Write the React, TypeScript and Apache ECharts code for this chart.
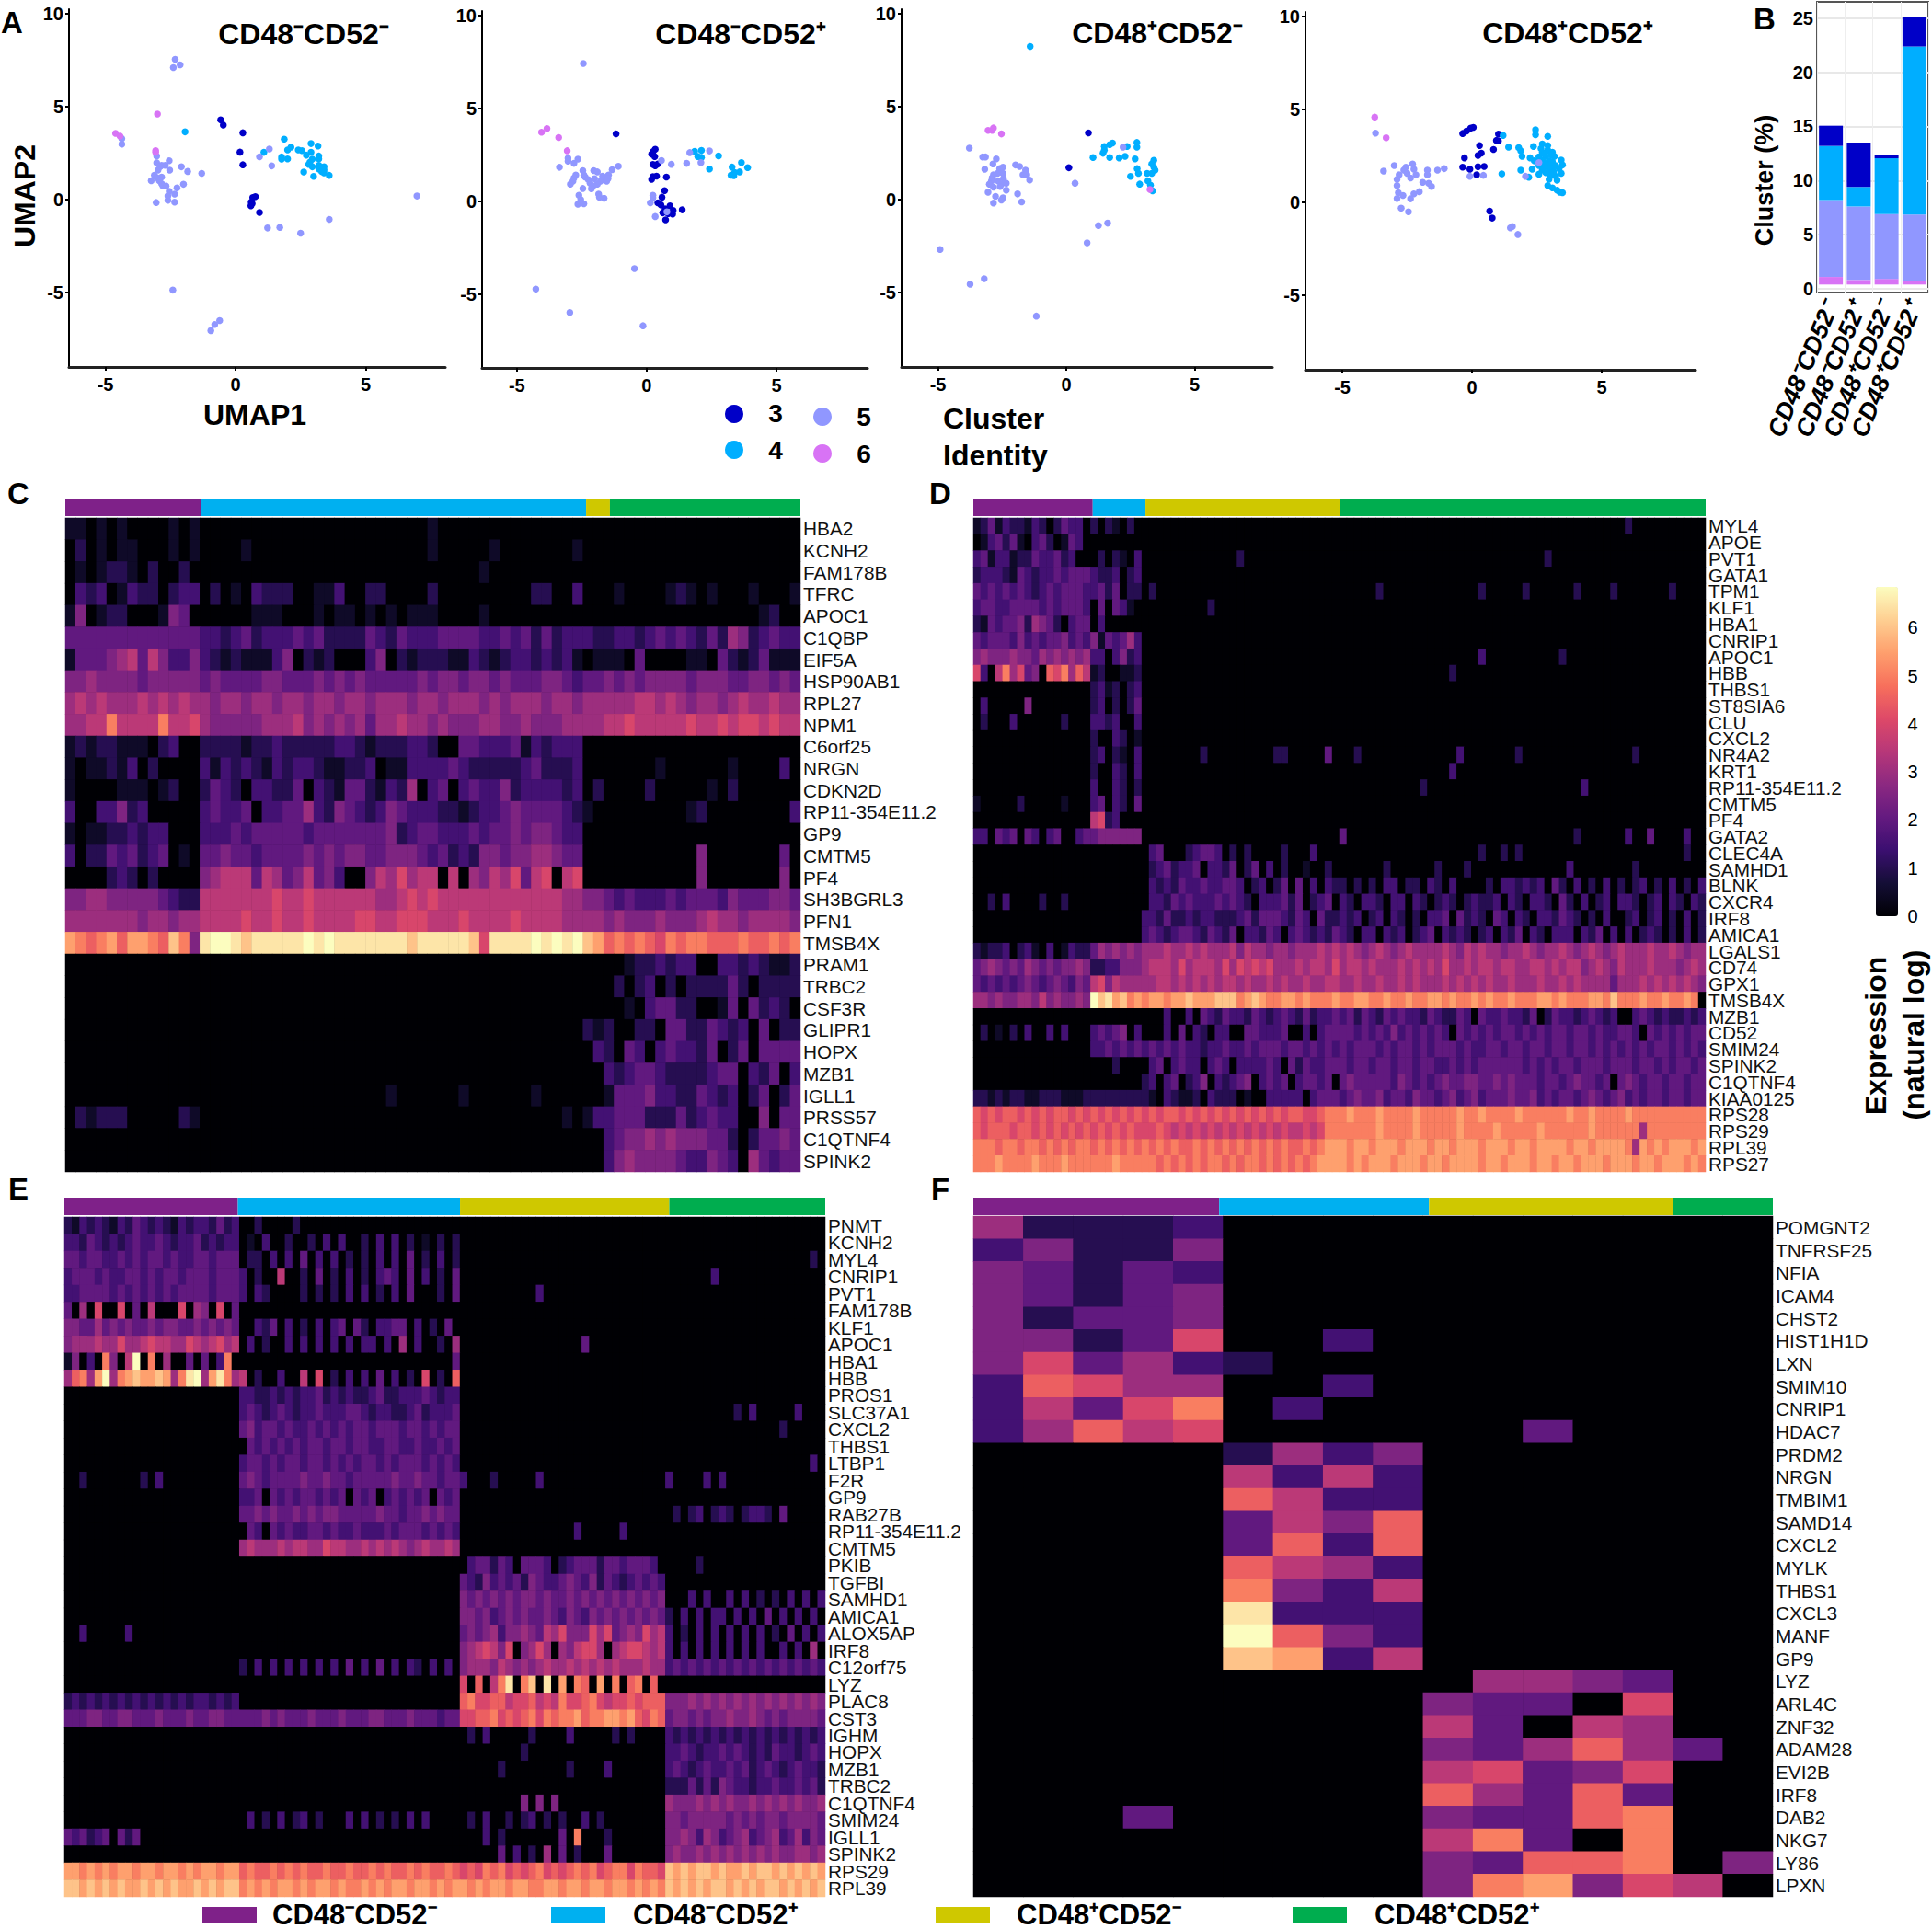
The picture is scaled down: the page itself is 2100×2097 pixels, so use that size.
import React, { useEffect, useRef } from "react";
import * as echarts from "echarts";

const GROUP_NAMES = ["CD48⁻CD52⁻", "CD48⁻CD52⁺", "CD48⁺CD52⁻", "CD48⁺CD52⁺"];
const GROUP_COLORS = ["#7f2189", "#00b0f0", "#cfc800", "#00ad4f"];
const CLUSTER_NAMES = ["3", "4", "5", "6"];
const CLUSTER_COLORS = ["#0000c8", "#00aeff", "#9097ff", "#d873f5"];
const MAGMA = ["#000004", "#140e36", "#3b0f70", "#641a80", "#8c2981", "#b73779", "#de4968", "#f7705c", "#fe9f6d", "#fecf92", "#fcfdbf"];

type P = [number, number];
const umap1: P[][] = [
  [[-0.57,4.3],[-0.47,4.02],[0.28,3.6],[0.17,2.56],[0.28,1.88],[0.76,0.17],[0.66,0.12],[0.6,-0.13],[0.64,-0.21],[0.59,-0.33],[0.92,-0.69]],
  [[-1.94,3.65],[1.87,3.26],[1.09,2.55],[2.13,2.83],[2.0,2.68],[2.41,2.68],[2.55,2.64],[2.9,3.02],[3.17,2.89],[2.9,2.55],[2.72,2.4],[3.2,2.35],[3.2,2.2],[2.95,2.18],[2.86,2.02],[1.77,2.3],[1.77,2.18],[2.0,2.2],[2.81,1.9],[2.95,1.77],[3.2,1.85],[3.4,1.77],[3.2,1.65],[3.4,1.6],[3.31,1.52],[3.4,1.44],[2.62,1.49],[3.6,1.31],[3.0,1.26]],
  [[-2.32,7.55],[-2.13,7.26],[-2.39,7.11],[-4.37,3.29],[-4.37,2.99],[-3.03,2.35],[-3.03,1.98],[-2.84,1.85],[-2.55,2.1],[-2.9,1.77],[-2.7,1.85],[-2.08,1.77],[-2.98,1.59],[-2.53,1.59],[-1.84,1.52],[-1.3,1.42],[-3.12,1.32],[-2.84,1.22],[-3.03,1.19],[-3.24,1.02],[-2.93,1.02],[-2.84,0.86],[-2.0,0.83],[-2.79,0.74],[-2.67,0.74],[-2.25,0.64],[-2.55,0.45],[-2.34,0.3],[-2.6,0.2],[-2.6,-0.03],[-3.05,-0.15],[-2.34,-0.13],[1.3,2.73],[0.92,2.31],[1.39,1.82],[6.97,0.2],[3.6,-1.06],[1.23,-1.52],[1.7,-1.49],[2.5,-1.8],[-2.41,-4.86],[-0.61,-6.5],[-0.8,-6.71],[-0.95,-7.04]],
  [[-3.0,4.61],[-4.61,3.57],[-4.44,3.42],[-3.07,2.64],[-3.07,2.56]],
];
const umap2: P[][] = [
  [[-1.18,3.64],[0.33,2.81],[0.24,2.68],[0.19,2.55],[0.31,2.42],[0.24,1.99],[0.43,2.02],[0.33,1.92],[0.24,1.34],[0.38,1.36],[0.19,1.19],[0.76,1.31],[0.69,0.58],[0.59,0.23],[0.43,-0.07],[0.55,-0.18],[0.9,-0.23],[0.71,-0.4],[1.02,-0.48],[0.62,-0.61],[1.37,-0.45],[1.0,-0.68],[0.83,-0.65],[0.73,-0.99]],
  [[1.85,2.7],[2.11,2.75],[1.97,2.42],[2.11,2.37],[2.77,2.45],[2.42,1.75],[3.29,1.85],[3.65,2.09],[3.89,1.82],[3.58,1.59],[3.39,1.56],[3.25,1.41],[3.36,1.39]],
  [[-2.44,7.43],[-3.36,1.84],[-3.03,2.33],[-3.03,2.17],[-2.8,2.05],[-2.65,2.28],[-1.09,1.89],[-1.33,1.71],[-2.46,1.66],[-2.04,1.66],[-1.9,1.59],[-2.42,1.42],[-1.47,1.42],[-2.73,1.42],[-1.7,1.36],[-2.37,1.31],[-2.8,1.26],[-2.01,1.23],[-1.49,1.23],[-2.25,1.18],[-2.84,1.09],[-1.78,1.09],[-1.54,1.09],[-2.94,0.93],[-2.18,0.98],[-1.9,0.93],[-2.06,0.84],[-2.46,0.7],[-2.13,0.68],[-2.61,0.33],[-1.85,0.4],[-1.82,0.23],[-1.64,0.17],[-2.54,0.1],[-2.42,-0.12],[-2.65,-0.15],[0.57,2.2],[0.95,2.0],[1.66,2.63],[2.42,2.72],[1.54,2.05],[2.09,2.09],[0.24,0.33],[0.24,0.2],[0.14,-0.07],[0.33,-0.81],[0.78,-0.56],[-0.47,-3.61],[-4.27,-4.72],[-2.96,-5.98],[-0.14,-6.69]],
  [[-4.05,3.73],[-3.84,3.92],[-3.39,3.44],[-3.06,2.73]],
];
const umap3: P[][] = [
  [[0.86,3.59],[0.1,1.72]],
  [[-1.41,8.25],[1.8,3.05],[1.69,2.96],[1.48,2.86],[1.48,2.67],[2.37,2.86],[2.75,3.08],[2.75,2.83],[1.43,2.5],[1.04,2.27],[1.69,2.27],[2.06,2.25],[2.29,2.33],[2.68,2.2],[3.41,2.12],[3.33,1.92],[3.41,1.75],[2.76,1.67],[3.46,1.59],[3.15,1.42],[2.81,1.42],[2.5,1.26],[3.33,1.42],[2.86,0.84],[3.18,1.01],[3.28,0.79],[3.36,0.48]],
  [[2.21,2.83],[0.34,0.89],[-3.78,2.78],[-3.26,2.3],[-3.15,2.3],[-2.86,1.92],[-2.73,2.2],[-2.6,1.67],[-1.98,1.87],[-1.82,1.79],[-3.18,1.64],[-2.47,1.75],[-2.47,1.42],[-2.68,1.42],[-1.59,1.59],[-1.69,1.34],[-1.54,1.34],[-2.84,1.34],[-2.89,1.18],[-2.45,1.14],[-1.43,1.06],[-2.92,1.01],[-2.66,1.01],[-3.0,0.84],[-2.53,0.84],[-2.34,0.89],[-2.84,0.68],[-2.58,0.71],[-2.34,0.51],[-3.05,0.4],[-2.76,0.18],[-1.9,0.31],[-2.47,0.1],[-2.53,-0.02],[-1.74,-0.12],[-2.84,-0.18],[1.61,-1.26],[1.25,-1.39],[0.81,-2.32],[-4.92,-2.68],[-3.2,-4.25],[-3.75,-4.55],[-1.17,-6.26]],
  [[-3.05,3.73],[-2.89,3.73],[-2.84,3.86],[-2.53,3.54],[3.26,0.55]],
];
const umap4: P[][] = [
  [[-0.36,3.71],[-0.21,3.84],[-0.05,4.0],[0.05,4.04],[1.02,3.68],[0.94,3.34],[0.29,3.06],[1.02,3.31],[0.83,2.85],[0.36,2.65],[0.23,2.53],[-0.29,2.4],[-0.36,1.9],[-0.08,1.79],[0.23,1.92],[0.47,1.94],[0.18,1.49],[0.68,-0.46],[0.78,-0.84]],
  [[1.2,3.61],[2.45,3.92],[2.45,3.64],[2.92,3.56],[1.41,2.98],[1.8,2.95],[2.37,3.01],[1.88,2.78],[2.71,3.15],[2.92,3.06],[2.66,2.9],[2.92,2.81],[2.71,2.7],[3.1,2.7],[1.93,2.48],[2.24,2.4],[2.58,2.45],[2.84,2.48],[3.18,2.48],[2.4,2.24],[2.71,2.28],[2.97,2.24],[3.44,2.28],[2.58,1.99],[2.89,2.02],[3.23,1.99],[3.49,2.02],[2.97,1.82],[3.36,1.82],[1.88,1.74],[2.32,1.79],[2.71,1.74],[1.15,1.54],[2.58,1.52],[2.97,1.57],[3.44,1.57],[2.19,1.36],[3.23,1.41],[2.97,1.24],[3.28,1.19],[2.92,0.91],[3.1,0.79],[3.28,0.66],[3.39,0.55],[3.49,0.53],[2.8,2.6],[3.05,2.55],[2.6,2.2],[3.1,2.2],[2.8,2.1],[3.1,2.1],[2.75,1.9],[3.1,1.85],[2.85,1.6],[3.15,1.65],[3.05,1.45]],
  [[-3.72,3.73],[-3.0,1.99],[-3.41,1.69],[-2.29,2.07],[-2.55,1.9],[-2.24,1.79],[-2.63,1.74],[-1.72,1.74],[-1.33,1.74],[-1.07,1.82],[-2.81,1.49],[-2.5,1.57],[-2.16,1.49],[-1.72,1.49],[-2.89,1.24],[-2.37,1.32],[-1.9,1.08],[-2.89,0.91],[-1.67,1.03],[-1.56,0.86],[-2.03,0.58],[-2.84,0.53],[-2.66,0.38],[-2.24,0.46],[-2.89,0.22],[-2.37,0.2],[-2.73,-0.3],[-2.45,-0.5],[-0.08,1.41],[0.44,1.46],[2.06,1.41],[2.58,2.15],[1.56,-1.29],[1.48,-1.37],[1.77,-1.72]],
  [[-3.75,4.59],[-3.31,3.48]],
];

// Panel B: base offset then stacked cluster percentages (bottom to top: 6, 5, 4, 3)
const barBase = [0.38, 0.38, 0.38, 0.38];
const bar6 = [0.7, 0.42, 0.52, 0.32];
const bar5 = [7.12, 6.8, 6.0, 6.15];
const bar4 = [5.0, 1.8, 5.16, 15.55];
const bar3 = [1.87, 4.1, 0.34, 2.7];

// Heatmap rows: one character per cell, an index into LEVEL_VALUES. '|' separates the groups; a short group is padded with 0.
const LEVEL_KEYS = "0123456789abcde";
const LEVEL_VALUES = [0, 0.5, 1, 1.5, 2, 2.5, 3, 3.5, 4, 4.5, 5, 5.5, 6, 6.5, 6.85];

const genesC = ["HBA2","KCNH2","FAM178B","TFRC","APOC1","C1QBP","EIF5A","HSP90AB1","RPL27","NPM1","C6orf25","NRGN","CDKN2D","RP11-354E11.2","GP9","CMTM5","PF4","SH3BGRL3","PFN1","TMSB4X","PRAM1","TRBC2","CSF3R","GLIPR1","HOPX","MZB1","IGLL1","PRSS57","C1QTNF4","SPINK2"];
const groupsC = [13, 37, 2, 19];
const rowsC = [
"1101010000101|0000000000000000000000100000000000000",
"0201011000101|0000100000000000000000100000100000001",
"0101221020020|0000000000000000000000000001000000000",
"0323013220233|0201032220011300220000200000000022003|00|0100001210100010001",
"1501220001540|0000011100010110101011100001000000000|00|000000000000000120",
"4444444444444|3323423334342222432433344443343424233|32|2332343432426523433",
"1444567475335|3212111350212000350212221132123323231|01|1104000011042124111",
"5565555455555|4544445544454545444445455455454445543|44|5454555545554455454",
"6767666767676|6566566566566566566656656665656665665|66|6667767656656766766",
"6677a7777a778|6555556667565656466766565556655655566|66|7787777787787887877",
"1212211102300|2222122322222332122233200443334132333|",
"1011213020000|3132321323321122301133334322222342223|00|0000010000001000030",
"1000011101200|2432033224032144213260340343352333323|02|0000200000102000000",
"3003352300000|3433403344632543235433322123345444432|10|0000000012000000003",
"1011223233000|3334344444344444445234433343445455433|",
"3022434234010|4454434444545455445554342325545566544|00|0000000005000000040",
"0000232020000|5677747645745300576867707065768478078|00|0000000005000000050",
"5566555554322|7777777877877777766787877777777777766|55|4343334344435444554",
"6666666566566|7777877877877778877888777877778777766|66|5655565556766566665",
"ba9ab9bba9ca5|deedcdddddededddddddcdddddc8ddddedede|cb|9a9a98a9aa999a99a9a",
"0000000000000|0000000000000000000000000000000000000|00|0012232330033232112",
"0000000000000|0000000000000000000000000000000000000|00|0202302022224202222",
"0000000000000|0000000000000000000000000000000000000|00|0010344220014042320",
"0000000000000|0000000000000000000000000000000000000|21|2002204422432304022",
"0000000000000|0000000000000000000000000000000000000|03|2043034332402404444",
"0000000000000|0000000000000000000000000000000000000|00|3234432222344032403",
"0000000000000|0000000000000000001000000100000010000|00|1444533224323024024",
"0212220000021|0000000000000000000000000000000000010|13|3444222423433005044",
"0000000000000|0000000000000000000000000000000000000|00|3455656555442024454",
"0000000000000|0000000000000000000000000000000000000|00|3565555433543064344",
];

const genesD = ["MYL4","APOE","PVT1","GATA1","TPM1","KLF1","HBA1","CNRIP1","APOC1","HBB","THBS1","ST8SIA6","CLU","CXCL2","NR4A2","KRT1","RP11-354E11.2","CMTM5","PF4","GATA2","CLEC4A","SAMHD1","BLNK","CXCR4","IRF8","AMICA1","LGALS1","CD74","GPX1","TMSB4X","MZB1","CD52","SMIM24","SPINK2","C1QTNF4","KIAA0125","RPS28","RPS29","RPL39","RPS27"];
const groupsD = [16, 7, 27, 50];
const rowsD = [
"1241322132024330|2021020||000000000000000000000000000000000000000200",
"0134241034201430|0000000|",
"3413312243342300|0202103|0000000000000200|0000000000000000000000000000200",
"2333214323343444|3223023|",
"4343434323434443|3424022|020000|000002000000000000020000020000002000020000000200",
"3443344443434443|0404310|00000000020",
"2143445265420344|0300000|",
"4344435343445343|5143463|",
"5655565546565656|3303523||00000000000000000003000000000020",
"8307a6845098a697|1200112||0000000000000002",
"0000000000000000|2312023|",
"0300000500000000|2302024|",
"0200030000002000|3323003|",
"0000000000000000|2003201|",
"0000000000000000|2302103|0000000020000000002200000400|00200000000000003000000020000000000000002",
"0000000000000000|2003203||000000000000000300",
"0000000000000000|3003202||00000000000200000000000000000000030",
"1000002000001000|3403204|",
"0000000000000000|7823000|",
"3304340430340034|4555555||400000000000000000000000000000002000000300400003",
"0000000000000000|0000000|0340002344302020000200030|00000000000000000002002020000000000000000000000200020",
"0000000000000000|0000000|0234233403324024030200100200|000000200000020002000000000000030000000020",
"0000000000000000|0000000|0323243343344302302404030320|20202033022032030000203323230420302030202302030203",
"0020300002002000|0000000|0332434333434320333424023402|32033203303202320232230320332042030230332023032032",
"0000000000000000|0000000|3324223233222342444324304223|32302303202033404232043032033243202030023023020302",
"0000000000000000|0000000|3432344324324033243034323240|32033032302340323202303240320333032403030232020302",
"2122302310301322|4656565|6667667676667576656656667675|67656765676666765767665667656676567656766676676566",
"4565454654545565|2233555|6777686777686878786667677686|67767666767676866767767766776767756765766676665676",
"4343434543454354|7857666|6677676767677676676766766776|66766766767666767676766766676676766664666767676765",
"6656556657565565|ecdbcab|abbabbcbbbcccabcbaabbabaaaba|aabbaabaabaabbabaababaabaaabbabaaabbacaaabaabaaba",
"0000000000000000|0000000|0003003043243324323432423344|34243243433243224304334332402433234323003432322323",
"0201020300303000|3434503|0003040320330044333400303443|44343435343434304343434434343443443433443043434344",
"0000000000000000|3343434|3434343323343343444344343434|43444343443434443433443443443443443434343434434343",
"0000000000000000|0002000|0340343303430333343042433443|43443443443443343434444443434344344434443443434434",
"0000000000000000|0000000|2303402350323450343403443403|45444443543434544554454544434434544340454344344344",
"2212122112221112|2222222|2103211203222010033333034444|34544534435443453453444544534344345434534344344344",
"9898998989899898|9898989|8989989898989898989899889aaa|abaaabaaaabaaaaabaabaaaabaaaaaabaabaaaabaaaaaaaaaa",
"9899989989898989|8989898|8898787878787878787877878aaa|aaaaabaaaabaaaaabaaaabaaaaabaaaaaabaaaaaa6aaaaaaaa",
"aaa9aa9aa9a9a9aa|9a9a9a9|a9a9a99a9a9a9a9a9a9a99a9abb|babbabbbabbbabbabbbabbbabbabbbbabbabbbba6bababbbab",
"aaabaaaabaaabaaa|aaabaaa|aa9a9a9a9aa9a9aa9a9a9a9abbb|bababbbabbbabbabbbbabbabbbabbabbabbbabbbabbabbbaba",
];

const genesE = ["PNMT","KCNH2","MYL4","CNRIP1","PVT1","FAM178B","KLF1","APOC1","HBA1","HBB","PROS1","SLC37A1","CXCL2","THBS1","LTBP1","F2R","GP9","RAB27B","RP11-354E11.2","CMTM5","PKIB","TGFBI","SAMHD1","AMICA1","ALOX5AP","IRF8","C12orf75","LYZ","PLAC8","CST3","IGHM","HOPX","MZB1","TRBC2","C1QTNF4","SMIM24","IGLL1","SPINK2","RPS29","RPL39"];
const groupsE = [23, 29, 27, 21];
const rowsE = [
"21323213243232132332423|00200002000000000000|",
"33243232343343233423233|01030020020303002030302010202|",
"44344334343443433443444|02203030403030202030304020302||0000000000000000000200",
"34443433443434434443444|30200700204020302034304030204||000000300",
"33444434343434344443444|30320000202020303020304000204|00000000003",
"40608008040700080650804|00000000000000000000000000000|",
"55446454544545544545454|00324030203034042033440302040|",
"56667668667877668767867|03020030303030303303060300206|00000000000000004",
"15030a507e0a060040403a0|00000000000000000000000000004|",
"69a6be6abcbbcb6ade6bda6|70200300708020303040302080209|",
"00000000000000000000000|33223232334232322342233343233|",
"00000000000000000000000|34323432334333443233223423334|00000000000000000000000000|0000000002030000030002",
"00000000000000000000000|45344343343434344344434434344||00000000000000020",
"00000000000000000000000|04343434344344344334433433434|",
"00000000000000000000000|34434344344343434434344434343||000000000000000000030",
"00200000002030000000000|45434444544544344444544544344|3000200000300000000000|30000303000",
"00000000000000000000000|33404343443434043403434340434|",
"00000000000000000000000|44545445454554444454434454544||0202302320233204",
"00000000000000000000000|04304343344343343334344434343|000000000000000300000300",
"00000000000000000000000|67666767766877667676765676676|",
"00000000000000000000000|00000000000000000000000000000|034424304443023444244344430|000020000",
"00000000000000000000000|00000000000000000000000000000|432534342543345435243234343",
"00000000000000000000000|00000000000000000000000000000|545454545545445454545454545|000303003030202030303",
"00000000000000000000000|00000000000000000000000000000|554534545445435435454545454|203030330303040303030",
"00300000300000000000000|00000000000000000000000000000|454563556547685558684565867|302030303030302040303",
"00000000000000000000000|00000000000000000000000000000|567875805686065788606788767|303030303030300303060",
"00000000000000000000000|20303030303030403040303203030|566657656567667676767666766|343434343434343434343",
"00000000000000000000000|00000000000000000000000000000|80907ad0ac0d0b0a90b0a09a090|",
"23232323232323232332323|00000000000000000000000000000|9a88997889787a889a878898999|555656565656565656565",
"44455445544454445445544|44454544454445444554445444344|8899a8989a8a9aab9aabbab98a9|455454556556545455554",
"00000000000000000000000|00000000000000000000000000000|020300000200003000002020000|323232323232323232323",
"00000000000000000000000|00000000000000000000000000000|000000002000000000000000000|334323343432324332343",
"00000000000000000000000|00000000000000000000000000000|000002000000002000030000000|343234334342343234332",
"00000000000000000000000|00000000000000000000000000000|0|222424254332334334342",
"00000000000000000000000|00000000000000000000000000000|000000005050500000000000000|655565656556565656556",
"00000000000000000000000|03020302302000303020203030000|020300202302020030200000000|554555554545455455554",
"43423404240000000000000|00000000000000000000000000000|000302000000040a00020000000|556536534563456346354",
"00000000000000000000000|00000000000000000000000000000|000004030206040200040000000|565565656565656556656",
"bbabababbabbabbababbabb|9a99a9a9a99a99a99a9a99a9a99a9|898a9a8989a8989a9a89aa8a998|cbcbccbcbbcbccbcbcbcb",
"ccbcbcbcbbcbcbcbbcbcbcc|abababbababbabaabababbabbabab|bababbabbaabbabbabbabbababa|cbcbcbccbcbcbccbcbcbc",
];

const genesF = ["POMGNT2","TNFRSF25","NFIA","ICAM4","CHST2","HIST1H1D","LXN","SMIM10","CNRIP1","HDAC7","PRDM2","NRGN","TMBIM1","SAMD14","CXCL2","MYLK","THBS1","CXCL3","MANF","GP9","LYZ","ARL4C","ZNF32","ADAM28","EVI2B","IRF8","DAB2","NKG7","LY86","LPXN"];
const groupsF = [16];
const rowsF = [
"6222300000000000",
"3522500000000000",
"5424300000000000",
"5424500000000000",
"5244500000000000",
"5524800300000000",
"5846320000000000",
"3986600300000000",
"3748a03000000000",
"3697800000040000",
"0000026350000000",
"0000073730000000",
"0000097330000000",
"0000047590000000",
"0000049390000000",
"0000097630000000",
"00000a5370000000",
"00000d3330000000",
"00000e9530000000",
"00000cb370000000",
"0000000000665400",
"0000000005440800",
"0000000007407600",
"0000000005469640",
"0000000007845800",
"0000000009649400",
"0004000005449a00",
"0000000007a40a00",
"0000000005499a05",
"0000000005ab5870",
];
// annotation strip widths, in columns
const stripC = [13.1, 37.2, 2.3, 18.4];
const stripD = [16.3, 7.2, 26.5, 50];
const stripE = [22.8, 29.2, 27.5, 20.5];
const stripF = [4.92, 4.2, 4.88, 2];

const decode = (rows: string[], groups: number[]) =>
  rows.map((r) => {
    const parts = r.split("|");
    return groups.flatMap((n, i) =>
      [...(parts[i] || "").padEnd(n, "0").slice(0, n)].map((c) => LEVEL_VALUES[LEVEL_KEYS.indexOf(c)])
    );
  });

const SANS = '"Liberation Sans", Arial, sans-serif';

function buildOption() {
  const grids: any[] = [], xAxes: any[] = [], yAxes: any[] = [], series: any[] = [], graphic: any[] = [];
  const heatIdx: number[] = [];
  const addGrid = (l: number, r: number, t: number, b: number, extra: any = {}) => {
    grids.push({ left: l, top: t, width: r - l, height: b - t, containLabel: false, ...extra });
    return grids.length - 1;
  };
  const text = (t: string, x: number, y: number, font: string, extra: any = {}) =>
    graphic.push({ type: "text", x, y, rotation: extra.rotation || 0, style: { text: t, font, fill: "#000", textAlign: extra.align || "center", textVerticalAlign: "middle" } });

  const umapPanel = (pts: P[][], l: number, r: number, t: number, b: number, xr: number[], yr: number[]) => {
    const g = addGrid(l, r, t, b);
    xAxes.push({ type: "value", gridIndex: g, min: xr[0], max: xr[1], axisLine: { onZero: false, lineStyle: { color: "#222", width: 3 } },
      axisTick: { length: 4, customValues: [-5, 0, 5], lineStyle: { color: "#000", width: 2 } }, splitLine: { show: false },
      axisLabel: { customValues: [-5, 0, 5], color: "#000", fontFamily: SANS, fontWeight: "bold", fontSize: 20, margin: 9 } });
    yAxes.push({ type: "value", gridIndex: g, min: yr[0], max: yr[1], axisLine: { onZero: false, lineStyle: { color: "#000", width: 2 } },
      axisTick: { length: 4, customValues: [-5, 0, 5, 10], lineStyle: { color: "#000", width: 2 } }, splitLine: { show: false },
      axisLabel: { customValues: [-5, 0, 5, 10], color: "#000", fontFamily: SANS, fontWeight: "bold", fontSize: 20, margin: 6 } });
    pts.forEach((d, i) =>
      series.push({ type: "scatter", name: CLUSTER_NAMES[i], xAxisIndex: g, yAxisIndex: g, data: d, symbolSize: 7.5, itemStyle: { color: CLUSTER_COLORS[i], opacity: 1 } })
    );
  };
  umapPanel(umap1, 75, 484, 10, 399, [-6.4, 8.06], [-9.0, 10.25]);
  umapPanel(umap2, 524, 943, 12, 400, [-6.34, 8.51], [-8.96, 10.25]);
  umapPanel(umap3, 980, 1383, 10, 399, [-6.42, 8.03], [-9.0, 10.25]);
  umapPanel(umap4, 1419, 1843, 13, 402, [-6.42, 8.62], [-9.0, 10.25]);

  // Panel B
  const gB = addGrid(1975, 2096, 2, 318, { show: true, borderColor: "#555", borderWidth: 2, backgroundColor: "#fff" });
  xAxes.push({ type: "category", gridIndex: gB, data: GROUP_NAMES, axisTick: { show: false }, axisLine: { show: false }, splitLine: { show: true, lineStyle: { color: "#eee", width: 1 } },
    axisLabel: { interval: 0, rotate: 67, color: "#000", fontFamily: SANS, fontWeight: "bold", fontStyle: "italic", fontSize: 27, margin: 12 } });
  yAxes.push({ type: "value", gridIndex: gB, min: -0.36, max: 26.53, axisLine: { show: false },
    axisTick: { length: 3, customValues: [0, 5, 10, 15, 20, 25], lineStyle: { color: "#000" } }, splitLine: { show: true, lineStyle: { color: "#e8e8e8", width: 2 } },
    axisLabel: { customValues: [0, 5, 10, 15, 20, 25], color: "#000", fontFamily: SANS, fontWeight: "bold", fontSize: 20, margin: 4 } });
  series.push({ type: "bar", name: "base", xAxisIndex: gB, yAxisIndex: gB, stack: "b", barWidth: 26, data: barBase, itemStyle: { color: "rgba(0,0,0,0)" } });
  [[bar6, 3], [bar5, 2], [bar4, 1], [bar3, 0]].forEach(([d, c]: any) =>
    series.push({ type: "bar", name: CLUSTER_NAMES[c], xAxisIndex: gB, yAxisIndex: gB, stack: "b", barWidth: 26, data: d, itemStyle: { color: CLUSTER_COLORS[c] } })
  );

  const heatPanel = (genes: string[], rows: string[], groups: number[], strip: number[], l: number, r: number, sTop: number, sBot: number, t: number, b: number) => {
    const m = decode(rows, groups);
    const nCols = groups.reduce((a, v) => a + v, 0);
    const g = addGrid(l, r, t, b, { show: true, backgroundColor: "#000004", borderWidth: 0 });
    xAxes.push({ type: "category", gridIndex: g, show: false, splitLine: { show: false }, data: Array.from({ length: nCols }, (_, i) => String(i)) });
    yAxes.push({ type: "category", gridIndex: g, inverse: true, position: "right", data: genes, axisLine: { show: false }, axisTick: { show: false }, splitLine: { show: false },
      axisLabel: { interval: 0, color: "#111", fontFamily: SANS, fontSize: 20.8, margin: 3 } });
    const data: number[][] = [];
    m.forEach((row, y) => row.forEach((v, x) => data.push([x, y, v])));
    heatIdx.push(series.length);
    series.push({ type: "heatmap", xAxisIndex: g, yAxisIndex: g, data, progressive: 0, emphasis: { disabled: true } });
    const s = addGrid(l, r, sTop, sBot);
    const total = strip.reduce((a, v) => a + v, 0);
    xAxes.push({ type: "value", gridIndex: s, show: false, min: 0, max: total, splitLine: { show: false } });
    yAxes.push({ type: "category", gridIndex: s, show: false, splitLine: { show: false }, data: ["group"] });
    strip.forEach((v, i) =>
      series.push({ type: "bar", name: GROUP_NAMES[i], xAxisIndex: s, yAxisIndex: s, stack: "strip" + s, barWidth: "100%", data: [v], itemStyle: { color: GROUP_COLORS[i] } })
    );
  };
  heatPanel(genesC, rowsC, groupsC, stripC, 71, 870, 543, 561, 563, 1274);
  heatPanel(genesD, rowsD, groupsD, stripD, 1058, 1854, 542, 561, 563, 1274);
  heatPanel(genesE, rowsE, groupsE, stripE, 70, 897, 1302, 1321, 1323, 2062);
  heatPanel(genesF, rowsF, groupsF, stripF, 1058, 1927, 1302, 1321, 1322, 2062);

  // texts
  const tf = `bold 32px ${SANS}`;
  text(GROUP_NAMES[0], 330, 37, tf);
  text(GROUP_NAMES[1], 805, 37, tf);
  text(GROUP_NAMES[2], 1258, 36, tf);
  text(GROUP_NAMES[3], 1704, 36, tf);
  text("UMAP1", 277, 451, `bold 32px ${SANS}`);
  text("UMAP2", 27, 213, `bold 32px ${SANS}`, { rotation: Math.PI / 2 });
  text("Cluster (%)", 1918, 196, `bold 27px ${SANS}`, { rotation: Math.PI / 2 });
  text("Cluster", 1025, 455, `bold 32px ${SANS}`, { align: "left" });
  text("Identity", 1025, 495, `bold 32px ${SANS}`, { align: "left" });
  text("Expression", 2039, 1126, `bold 32px ${SANS}`, { rotation: Math.PI / 2 });
  text("(natural log)", 2080, 1125, `bold 32px ${SANS}`, { rotation: Math.PI / 2 });
  const pl = `bold 33px ${SANS}`;
  text("A", 13, 24, pl); text("B", 1918, 20, pl); text("C", 20, 536, pl); text("D", 1022, 536, pl); text("E", 20, 1292, pl); text("F", 1022, 1292, pl);
  // cluster key
  const key: [number, number, number, number][] = [[798, 450, 843, 449], [798, 489, 843, 489], [894, 453, 939, 453], [894, 493, 939, 493]];
  key.forEach(([cx, cy, tx, ty], i) => {
    graphic.push({ type: "circle", shape: { cx, cy, r: 10 }, style: { fill: CLUSTER_COLORS[i] } });
    text(CLUSTER_NAMES[i], tx, ty, `bold 28px ${SANS}`);
  });
  // colour bar ticks
  [0, 1, 2, 3, 4, 5, 6].forEach((v) => text(String(v), 2079, 996 - v * 52.3, `20px ${SANS}`));
  // group key
  [[220, 296], [599, 688], [1017, 1105], [1405, 1494]].forEach(([sx, tx], i) => {
    graphic.push({ type: "rect", shape: { x: sx, y: 2073, width: 59, height: 18 }, style: { fill: GROUP_COLORS[i] } });
    text(GROUP_NAMES[i], tx, 2081, `bold 31px ${SANS}`, { align: "left" });
  });

  return {
    animation: false,
    backgroundColor: "#fff",
    grid: grids,
    xAxis: xAxes,
    yAxis: yAxes,
    series,
    graphic: { elements: graphic },
    visualMap: {
      type: "continuous", min: 0, max: 6.85, seriesIndex: heatIdx, dimension: 2, inRange: { color: MAGMA },
      left: 2039, top: 638, itemWidth: 24, itemHeight: 358, padding: 0, calculable: false, realtime: false, text: undefined, showLabel: false,
      textStyle: { fontSize: 0 }, hoverLink: false,
    },
  };
}

export default function App() {
  const ref = useRef<HTMLDivElement>(null);
  useEffect(() => {
    document.body.style.margin = "0";
    const chart = echarts.init(ref.current!, undefined, { renderer: "svg" });
    chart.setOption(buildOption() as any);
    return () => chart.dispose();
  }, []);
  return <div ref={ref} style={{ position: "absolute", left: 0, top: 0, width: 2100, height: 2097 }} />;
}
